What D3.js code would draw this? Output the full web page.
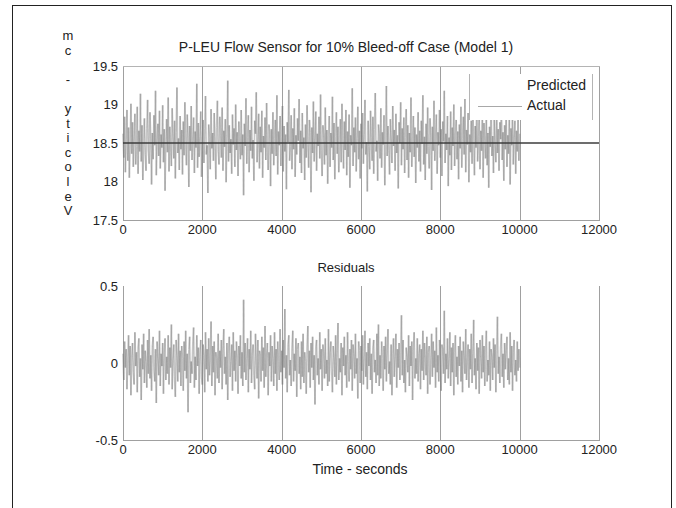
<!DOCTYPE html>
<html>
<head>
<meta charset="utf-8">
<script src="https://cdn.jsdelivr.net/npm/d3@7/dist/d3.min.js"></script>
<style>
  html, body { margin: 0; padding: 0; background: #fff; }
  svg { display: block; }
  text { font-family: "Liberation Sans", Arial, Helvetica, sans-serif; fill: #222; }
</style>
</head>
<body>
<svg id="chart" width="676" height="508"></svg>
<script>
// ---- data ----
const chartTitle = "P-LEU Flow Sensor for 10% Bleed-off Case (Model 1)";
const residualTitle = "Residuals";
const xLabel = "Time - seconds";
const yLabel = "Velocity - cm";
const xTicks = [0, 2000, 4000, 6000, 8000, 10000, 12000];
const yTicksTop = [17.5, 18, 18.5, 19, 19.5];
const yTicksBottom = [-0.5, 0, 0.5];
const legendLabels = ["Predicted", "Actual"];

// sample times: every 20 s from 0 to 10000
const sampleStep = 20;

// measured velocity (cm/s)
const actual = [
  18.62, 18.31, 18.84, 18.12, 18.55, 18.93, 18.27, 18.70, 18.05, 18.48, 19.01, 18.36, 18.77, 18.19, 18.58, 18.88, 18.22, 18.45, 18.97, 18.10, 18.66, 18.39, 19.14, 18.26, 18.73,
  18.02, 18.51, 18.82, 18.35, 18.14, 18.69, 19.06, 18.41, 18.23, 18.90, 18.57, 17.96, 18.63, 18.29, 18.86, 18.47, 19.18, 18.08, 18.54, 18.75, 18.33, 18.92, 18.17, 18.61, 18.44,
  18.99, 18.25, 18.68, 17.88, 18.50, 18.81, 18.38, 19.09, 18.13, 18.71, 18.46, 18.20, 18.95, 18.59, 18.30, 18.79, 18.04, 18.64, 19.22, 18.37, 18.56, 18.15, 18.85, 18.42, 18.67,
  18.09, 18.78, 18.34, 19.03, 18.49, 18.21, 18.87, 18.60, 17.93, 18.72, 18.40, 18.98, 18.28, 18.53, 18.83, 18.11, 18.65, 18.44, 19.27, 18.18, 18.76, 18.32, 18.58, 18.91, 18.06,
  18.52, 18.80, 18.24, 18.69, 19.11, 18.35, 18.47, 17.85, 18.74, 18.57, 18.16, 18.94, 18.43, 18.63, 18.27, 18.89, 18.51, 18.03, 18.70, 19.05, 18.39, 18.22, 18.84, 18.60, 18.31,
  18.96, 18.14, 18.66, 18.45, 18.81, 17.99, 18.58, 19.31, 18.26, 18.73, 18.37, 18.55, 18.10, 18.87, 18.48, 18.69, 18.19, 19.00, 18.41, 18.64, 18.07, 18.78, 18.52, 18.29, 18.93,
  18.34, 18.61, 17.82, 18.75, 18.46, 19.08, 18.23, 18.57, 18.86, 18.12, 18.67, 18.40, 18.97, 18.30, 18.54, 18.01, 18.79, 18.62, 19.16, 18.25, 18.49, 18.88, 18.17, 18.71, 18.38,
  18.92, 18.05, 18.59, 18.44, 18.83, 18.28, 19.02, 18.50, 18.15, 18.74, 18.63, 17.94, 18.68, 18.36, 18.90, 18.21, 18.56, 18.80, 18.33, 19.12, 18.09, 18.65, 18.47, 18.85, 18.20,
  18.58, 18.98, 18.13, 18.72, 18.39, 18.61, 17.90, 18.77, 18.51, 19.19, 18.27, 18.45, 18.86, 18.16, 18.69, 18.42, 18.95, 18.06, 18.60, 18.35, 18.82, 18.53, 19.07, 18.24, 18.66,
  18.11, 18.89, 18.43, 18.57, 18.02, 18.74, 18.31, 18.99, 18.48, 18.18, 18.80, 18.64, 17.86, 18.70, 18.37, 19.04, 18.26, 18.55, 18.91, 18.14, 18.62, 18.46, 18.84, 18.30, 19.13,
  18.40, 18.07, 18.73, 18.59, 18.22, 18.96, 18.34, 18.67, 17.97, 18.52, 18.85, 18.19, 18.63, 18.44, 19.10, 18.28, 18.76, 18.03, 18.58, 18.90, 18.36, 18.71, 18.12, 18.49, 18.81,
  18.25, 19.01, 18.54, 18.17, 18.78, 18.41, 18.93, 18.08, 18.65, 18.32, 18.87, 17.92, 18.60, 18.47, 19.21, 18.20, 18.70, 18.38, 18.83, 18.13, 18.56, 18.97, 18.29, 18.66, 18.04,
  18.75, 18.43, 18.89, 18.23, 18.61, 19.06, 18.35, 18.51, 17.87, 18.79, 18.45, 18.16, 18.92, 18.57, 18.27, 18.84, 18.10, 18.68, 19.15, 18.39, 18.53, 18.01, 18.74, 18.62, 18.30,
  18.95, 18.18, 18.64, 18.48, 18.86, 17.95, 18.59, 19.24, 18.33, 18.72, 18.40, 18.09, 18.81, 18.55, 18.24, 18.98, 18.46, 18.67, 18.14, 18.88, 18.37, 18.60, 17.91, 18.77, 18.50,
  19.03, 18.21, 18.69, 18.42, 18.83, 18.11, 18.57, 18.94, 18.28, 18.73, 18.05, 18.63, 18.38, 19.09, 18.19, 18.54, 18.85, 18.32, 18.70, 17.98, 18.61, 18.44, 18.90, 18.26, 18.66,
  18.13, 18.79, 18.49, 19.12, 18.22, 18.58, 18.02, 18.75, 18.36, 18.96, 18.45, 18.17, 18.82, 18.60, 17.89, 18.71, 18.40, 19.05, 18.27, 18.55, 18.87, 18.10, 18.64, 18.47, 18.93,
  18.31, 18.68, 18.07, 18.78, 18.52, 19.18, 18.24, 18.62, 18.41, 18.85, 17.94, 18.57, 18.34, 18.91, 18.15, 18.70, 18.46, 19.00, 18.20, 18.59, 18.80, 18.29, 18.65, 18.03, 18.74,
  18.43, 18.97, 18.18, 18.56, 18.84, 18.35, 19.07, 18.12, 18.67, 18.48, 18.89, 17.99, 18.61, 18.38, 18.79, 18.23, 18.95, 18.51, 18.08, 18.72, 18.44, 19.14, 18.26, 18.58, 18.83,
  18.16, 18.66, 18.40, 18.92, 18.05, 18.76, 18.53, 18.30, 18.87, 18.21, 18.63, 17.92, 18.71, 18.45, 19.02, 18.33, 18.59, 18.11, 18.81, 18.49, 18.25, 18.94, 18.37, 18.68, 18.14,
  18.77, 18.55, 19.10, 18.28, 18.64, 18.01, 18.73, 18.42, 18.90, 18.19, 18.60, 18.36, 18.84, 17.96, 18.69, 18.47, 18.98, 18.22, 18.58, 18.79, 18.10, 18.66, 18.39, 18.86, 18.27,
  18.62
];

// model prediction (constant over the run)
const predictedTimes = [0, 12000];
const predicted = [18.5, 18.5];

// model residuals
const residuals = [
  0.06, -0.11, 0.14, -0.03, 0.09, -0.17, 0.02, 0.18, -0.08, 0.11, -0.21, 0.04, 0.13, -0.06, -0.14, 0.20, -0.02, 0.07, -0.19, 0.10, 0.16, -0.09, 0.03, -0.24, 0.12,
  -0.04, 0.19, -0.13, 0.08, 0.01, -0.16, 0.15, -0.07, 0.22, -0.10, 0.05, -0.18, 0.11, 0.17, -0.05, -0.12, 0.09, -0.26, 0.14, 0.03, -0.08, 0.21, -0.15, 0.06, -0.02,
  0.13, -0.20, 0.07, 0.16, -0.11, 0.04, -0.07, 0.18, -0.14, 0.10, -0.03, 0.25, -0.17, 0.02, 0.12, -0.09, -0.22, 0.15, 0.05, -0.12, 0.19, -0.06, 0.08, -0.15, 0.11,
  0.03, -0.18, 0.14, -0.05, 0.21, -0.10, 0.06, -0.32, 0.09, 0.17, -0.13, 0.01, -0.07, 0.13, 0.23, -0.16, 0.04, -0.11, 0.18, -0.02, 0.10, -0.20, 0.07, 0.15, -0.09,
  -0.14, 0.12, 0.05, -0.19, 0.20, -0.04, 0.09, -0.12, 0.16, -0.08, 0.02, 0.27, -0.15, 0.11, -0.06, 0.14, -0.21, 0.07, 0.03, -0.10, 0.19, -0.13, 0.08, -0.03, 0.15,
  -0.17, 0.10, 0.22, -0.07, 0.04, -0.14, 0.13, -0.24, 0.06, 0.17, -0.09, 0.01, 0.12, -0.18, 0.20, -0.05, 0.08, -0.12, 0.14, 0.04, -0.20, 0.11, -0.02, 0.18, -0.10,
  0.07, -0.15, 0.41, -0.06, 0.13, -0.11, 0.03, 0.16, -0.19, 0.09, -0.04, 0.21, -0.13, 0.05, 0.12, -0.08, -0.17, 0.19, 0.02, -0.10, 0.15, -0.23, 0.08, 0.06, -0.12,
  0.17, -0.05, 0.10, -0.16, 0.24, -0.09, 0.04, 0.13, -0.21, 0.07, -0.02, 0.18, -0.12, 0.11, 0.03, -0.15, 0.20, -0.07, 0.09, -0.18, 0.14, 0.01, -0.11, 0.22, -0.06,
  0.08, -0.14, 0.15, -0.03, 0.35, -0.10, 0.05, -0.19, 0.12, 0.18, -0.08, 0.02, -0.15, 0.10, 0.21, -0.12, 0.06, -0.05, 0.16, -0.22, 0.09, 0.13, -0.07, 0.04, -0.17,
  0.14, -0.09, 0.19, -0.13, 0.07, 0.01, -0.20, 0.11, 0.24, -0.06, 0.08, -0.16, 0.13, -0.03, 0.17, -0.11, 0.05, -0.27, 0.10, 0.15, -0.08, 0.03, -0.14, 0.20, -0.04,
  0.09, -0.18, 0.12, 0.06, -0.10, 0.16, -0.07, 0.02, -0.15, 0.22, -0.12, 0.07, 0.14, -0.05, -0.19, 0.11, 0.04, -0.09, 0.18, -0.14, 0.08, 0.26, -0.11, 0.03, -0.06,
  0.13, -0.21, 0.10, -0.02, 0.17, -0.08, 0.05, -0.16, 0.20, 0.01, -0.12, 0.09, -0.04, 0.15, -0.18, 0.12, 0.06, -0.10, 0.19, -0.07, 0.03, -0.23, 0.14, 0.08, -0.13,
  0.11, -0.05, 0.18, -0.14, 0.04, 0.21, -0.09, 0.07, -0.17, 0.13, -0.02, 0.16, -0.11, 0.06, -0.20, 0.10, 0.15, -0.06, 0.02, -0.13, 0.19, -0.08, 0.25, -0.15, 0.05,
  -0.10, 0.14, 0.03, -0.18, 0.11, -0.04, 0.17, -0.12, 0.08, 0.22, -0.07, 0.01, -0.14, 0.12, -0.21, 0.06, 0.16, -0.09, 0.04, 0.19, -0.16, 0.09, -0.03, 0.13, -0.11,
  0.07, 0.31, -0.08, 0.15, -0.13, 0.02, -0.19, 0.10, 0.05, -0.06, 0.18, -0.15, 0.11, -0.02, 0.14, -0.24, 0.08, 0.20, -0.10, 0.03, -0.07, 0.16, -0.12, 0.06, 0.12,
  -0.17, 0.09, -0.05, 0.21, -0.11, 0.13, 0.04, -0.08, 0.17, -0.20, 0.07, 0.11, -0.14, 0.02, 0.19, -0.09, 0.14, -0.03, 0.08, -0.16, 0.23, -0.06, 0.05, -0.12, 0.15,
  0.01, -0.18, 0.12, 0.09, -0.07, 0.34, -0.13, 0.06, -0.04, 0.16, -0.10, 0.03, 0.20, -0.15, 0.10, -0.06, 0.13, -0.21, 0.07, 0.18, -0.09, 0.04, -0.14, 0.11, -0.02,
  0.17, -0.12, 0.08, -0.19, 0.14, 0.05, -0.07, 0.22, -0.11, 0.02, 0.12, -0.16, 0.09, -0.04, 0.19, -0.13, 0.06, 0.28, -0.08, 0.03, -0.17, 0.13, -0.05, 0.10, -0.20,
  0.15, 0.04, -0.10, 0.18, -0.06, 0.11, -0.15, 0.07, 0.21, -0.12, 0.02, -0.08, 0.14, -0.18, 0.09, 0.05, -0.11, 0.16, -0.03, 0.12, -0.19, 0.08, 0.30, -0.07, 0.04,
  -0.13, 0.10, 0.19, -0.09, 0.06, -0.16, 0.13, -0.04, 0.08, 0.17, -0.11, 0.03, -0.14, 0.20, -0.06, 0.11, -0.18, 0.07, 0.15, -0.08, 0.02, -0.12, 0.14, -0.05, 0.09,
  -0.03
];

// ---- layout ----
const svg = d3.select("#chart");
const left = 123, right = 599;
const top1 = 66, bot1 = 220;
const top2 = 286, bot2 = 440;
const gridColor = "#a0a0a0";
const borderColor = "#b4b4b4";
const tickFont = 13;
const labelFont = 14;
const titleX = 346;

// outer frame
svg.append("rect")
  .attr("x", 12.5).attr("y", 5.5)
  .attr("width", 659).attr("height", 520)
  .attr("fill", "none").attr("stroke", "#222").attr("stroke-width", 1);

const x = d3.scaleLinear().domain([0, 12000]).range([left, right]);
const yTop = d3.scaleLinear().domain([17.5, 19.5]).range([bot1, top1]);
const yBot = d3.scaleLinear().domain([-0.5, 0.5]).range([bot2, top2]);

function drawFrame(y, topPx, botPx, yTicks, withTopBorder) {
  const g = svg.append("g");
  // vertical grid lines at each x tick (the first acts as the left axis)
  g.selectAll("line.grid").data(xTicks).join("line")
    .attr("x1", d => Math.round(x(d)) + 0.5).attr("x2", d => Math.round(x(d)) + 0.5)
    .attr("y1", topPx).attr("y2", botPx)
    .attr("stroke", gridColor).attr("stroke-width", 1);
  // bottom axis line
  g.append("line")
    .attr("x1", left).attr("x2", Math.round(x(12000)) + 1)
    .attr("y1", botPx + 0.5).attr("y2", botPx + 0.5)
    .attr("stroke", gridColor);
  if (withTopBorder) {
    g.append("line")
      .attr("x1", left).attr("x2", Math.round(x(12000)) + 1)
      .attr("y1", topPx + 0.5).attr("y2", topPx + 0.5)
      .attr("stroke", borderColor);
  }
  // x tick labels
  g.selectAll("text.xt").data(xTicks).join("text")
    .attr("x", d => x(d)).attr("y", botPx + 14)
    .attr("text-anchor", "middle").attr("font-size", tickFont)
    .text(d => d);
  // y tick labels
  g.selectAll("text.yt").data(yTicks).join("text")
    .attr("x", left - 5).attr("y", d => y(d) + 4.5)
    .attr("text-anchor", "end").attr("font-size", tickFont)
    .text(d => d);
  return g;
}

// segmented trace so that overlapping strokes build up darker tones
function drawTrace(times, values, y, color, opacity) {
  const pts = values.map((v, i) => [x(times[i]), y(v)]);
  svg.append("g").selectAll("line").data(d3.pairs(pts)).join("line")
    .attr("x1", d => d[0][0]).attr("y1", d => d[0][1])
    .attr("x2", d => d[1][0]).attr("y2", d => d[1][1])
    .attr("stroke", color).attr("stroke-opacity", opacity).attr("stroke-width", 1.6);
}

const times = actual.map((_, i) => i * sampleStep);

// ---- upper panel ----
drawFrame(yTop, top1, bot1, yTicksTop, true);
drawTrace(times, actual, yTop, "#7a7a7a", 0.42);

// legend box (covers part of the trace)
const lg = svg.append("g");
lg.append("rect").attr("x", 469).attr("y", 74).attr("width", 124).attr("height", 46).attr("fill", "#fff");
lg.append("line").attr("x1", 469.5).attr("x2", 469.5).attr("y1", 74).attr("y2", 120).attr("stroke", borderColor);
lg.append("line").attr("x1", 592.5).attr("x2", 592.5).attr("y1", 74).attr("y2", 120).attr("stroke", borderColor);
lg.append("line").attr("x1", 478).attr("x2", 522).attr("y1", 106.5).attr("y2", 106.5).attr("stroke", "#a8a8a8");
lg.selectAll("text").data(legendLabels).join("text")
  .attr("x", 527).attr("y", (d, i) => 90 + i * 20)
  .attr("font-size", labelFont).text(d => d);

// predicted line over the trace
svg.append("path")
  .datum(predicted.map((v, i) => [predictedTimes[i], v]))
  .attr("d", d3.line().x(d => x(d[0])).y(d => yTop(d[1])))
  .attr("fill", "none").attr("stroke", "#3c3c3c").attr("stroke-width", 1.4);

// titles
svg.append("text").attr("x", titleX).attr("y", 52)
  .attr("text-anchor", "middle").attr("font-size", labelFont).text(chartTitle);

// stacked y label, read bottom-to-top
const letters = yLabel.split("").reverse();
svg.append("g").selectAll("text").data(letters).join("text")
  .attr("x", 68).attr("y", (d, i) => 40 + i * 14.6)
  .attr("text-anchor", "middle").attr("font-size", tickFont)
  .text(d => d);

// ---- lower panel ----
drawFrame(yBot, top2, bot2, yTicksBottom, false);
drawTrace(times, residuals, yBot, "#7a7a7a", 0.42);

svg.append("text").attr("x", titleX).attr("y", 272)
  .attr("text-anchor", "middle").attr("font-size", tickFont).text(residualTitle);
svg.append("text").attr("x", 360).attr("y", 474)
  .attr("text-anchor", "middle").attr("font-size", labelFont).text(xLabel);
</script>
</body>
</html>
